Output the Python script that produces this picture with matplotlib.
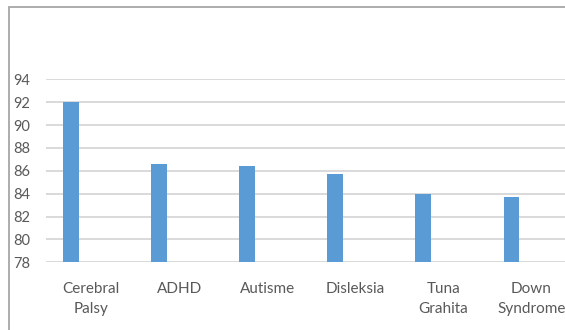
import matplotlib.pyplot as plt
import matplotlib.transforms as mtransforms
import numpy as np
from matplotlib.patches import Rectangle

# Data
categories = ["Cerebral\nPalsy", "ADHD", "Autisme", "Disleksia", "Tuna\nGrahita", "Down\nSyndrome"]
values = [92.0, 86.6, 86.4, 85.7, 84.0, 83.7]
y_ticks = [78, 80, 82, 84, 86, 88, 90, 92, 94]

plt.rcParams["font.family"] = ["Lato", "DejaVu Sans"]
text_color = "#595959"

fig = plt.figure(figsize=(5.65, 3.3), dpi=100)
ax = fig.add_axes([46 / 565, 1 - 262.3 / 330, 1 - 46 / 565, (262.3 - 79.3) / 330])

x = np.arange(len(categories))
ax.bar(x, values, width=0.18, color="#5B9BD5", zorder=3)

ax.set_ylim(78, 94)
ax.set_xlim(-0.284, 5.607)
ax.set_yticks(y_ticks)
ax.set_xticks(x)
ax.set_xticklabels(categories, linespacing=1.6)

ax.yaxis.grid(True, color="#d9d9d9", linewidth=1.4, zorder=0)
ax.xaxis.grid(False)
for s in ax.spines.values():
    s.set_visible(False)
ax.tick_params(axis="both", length=0, colors=text_color)
ax.tick_params(axis="y", pad=11.5, labelsize=10.5)
ax.tick_params(axis="x", pad=14, labelsize=11)

# labels sit a little right of the bars in the source image
shift = mtransforms.ScaledTranslation(20 / 100, 0, fig.dpi_scale_trans)
for lbl in ax.get_xticklabels():
    lbl.set_transform(lbl.get_transform() + shift)
    lbl.set_color(text_color)
for lbl in ax.get_yticklabels():
    lbl.set_color(text_color)

# Outer chart border (top and left visible, rest cropped)
fig.add_artist(Rectangle((9 / 565, -0.2), 1.5, 1.2 - 7 / 330,
                         transform=fig.transFigure, fill=False,
                         edgecolor="#a6a6a6", linewidth=1.3))

fig.savefig("out.png", dpi=100)
